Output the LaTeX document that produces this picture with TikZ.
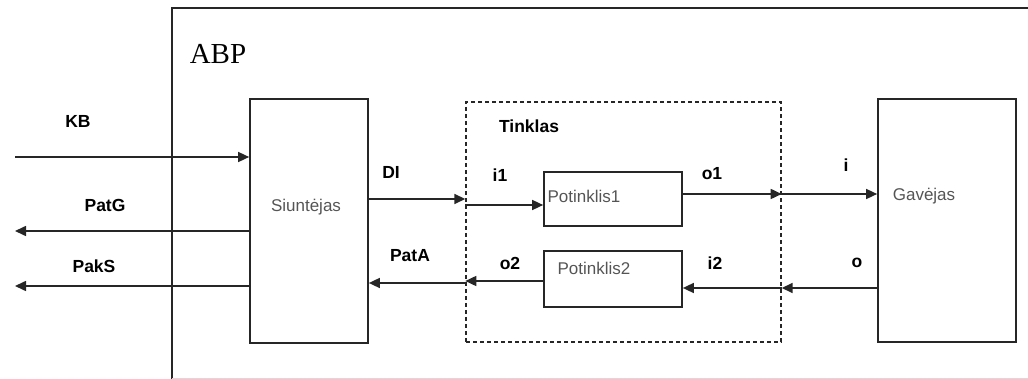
\documentclass[tikz,border=0pt]{standalone}
\usepackage{fontspec}
\setmainfont{Liberation Sans}
\newfontfamily\serifface{Liberation Serif}
\usetikzlibrary{arrows.meta}
\definecolor{linec}{HTML}{262626}
\definecolor{boxtext}{HTML}{555555}
\tikzset{
  block/.style={draw=linec, line width=1.7pt, inner sep=0pt},
  netbox/.style={draw=linec, line width=1.4pt, dash pattern=on 4pt off 3pt, inner sep=0pt},
  arr/.style={draw=linec, line width=1.6pt, -{Triangle[length=11pt,width=10pt]}},
  lbl/.style={font=\fontsize{17.5}{20}\selectfont\bfseries, anchor=base, inner sep=0pt},
  btxt/.style={font=\fontsize{17}{20}\selectfont, text=boxtext, anchor=base, inner sep=0pt},
}
\begin{document}
\begin{tikzpicture}[x=1pt,y=-1pt]
\useasboundingbox (0,0) rectangle (1028,379);

% system frame
\draw[linec, line width=1.6pt] (172,379) -- (172,8) -- (1028,8);
\draw[black!15, line width=1pt] (172,378) -- (1028,378);
\node[font=\serifface\fontsize{29}{32}\selectfont, anchor=base, inner sep=0pt] (abp) at (218,64) {ABP};

% main blocks
\node[block, minimum width=118pt, minimum height=244pt] (snd) at (309,221) {};
\node[block, minimum width=138pt, minimum height=243pt] (rcv) at (947,220.5) {};
\node[netbox, minimum width=315pt, minimum height=240pt] (net) at (623.5,222) {};
\node[block, minimum width=138pt, minimum height=54pt] (p1) at (613,199) {};
\node[block, minimum width=138pt, minimum height=56pt] (p2) at (613,279) {};

% block captions
\node[btxt] (tsnd) at (306,212) {Siuntėjas};
\node[btxt] (trcv) at (924,201) {Gavėjas};
\node[btxt] (tp1) at (584,203) {Potinklis1};
\node[btxt] (tp2) at (594,275) {Potinklis2};
\node[lbl] (tnet) at (529,133) {Tinklas};

% free ends on the left
\coordinate (kbIn) at (15,157);
\coordinate (patgOut) at (15,231);
\coordinate (paksOut) at (15,286);

% connectors
\draw[arr] (kbIn) -- (snd.west |- kbIn);
\draw[arr] (snd.west |- patgOut) -- (patgOut);
\draw[arr] (snd.west |- paksOut) -- (paksOut);
\draw[arr] (snd.east |- 0,199) -- (net.west |- 0,199);
\draw[arr] (net.west |- 0,205) -- (p1.west |- 0,205);
\draw[arr] (p1.east |- 0,194) -- (net.east |- 0,194);
\draw[arr] (net.east |- 0,194) -- (rcv.west |- 0,194);
\draw[arr] (rcv.west |- 0,288) -- (net.east |- 0,288);
\draw[arr] (net.east |- 0,288) -- (p2.east |- 0,288);
\draw[arr] (p2.west |- 0,281) -- (net.west |- 0,281);
\draw[arr] (net.west |- 0,283) -- (snd.east |- 0,283);

% signal labels
\node[lbl] (lkb) at (78,128) {KB};
\node[lbl] (lpatg) at (105,212) {PatG};
\node[lbl] (lpaks) at (94,273) {PakS};
\node[lbl] (ldi) at (391,179) {DI};
\node[lbl] (lpata) at (410,262) {PatA};
\node[lbl] (li1) at (500,182) {i1};
\node[lbl] (lo1) at (712,180) {o1};
\node[lbl] (lo2) at (510,270) {o2};
\node[lbl] (li2) at (715,270) {i2};
\node[lbl] (li) at (846,172) {i};
\node[lbl] (lo) at (857,268) {o};
\end{tikzpicture}
\end{document}
